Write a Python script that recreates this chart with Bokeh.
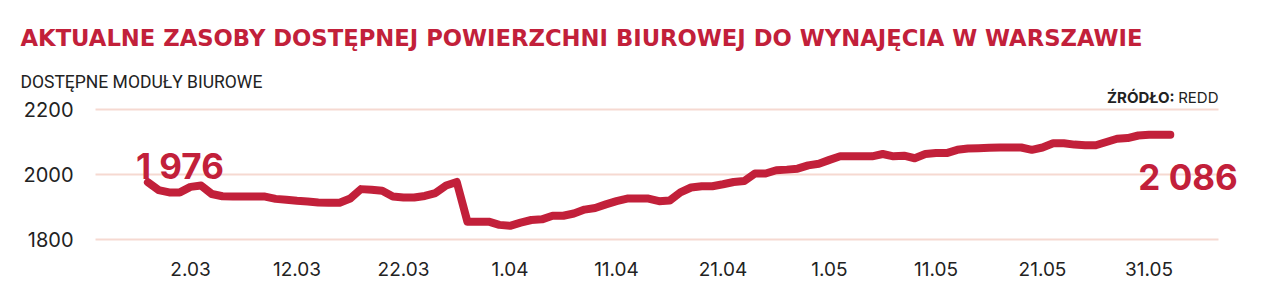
from bokeh.plotting import figure
from bokeh.models import Range1d, Label, ColumnDataSource
from bokeh.embed import file_html
from bokeh.resources import INLINE

# ---- data ----
title_text = "AKTUALNE ZASOBY DOSTĘPNEJ POWIERZCHNI BIUROWEJ DO WYNAJĘCIA W WARSZAWIE"
subtitle_text = "DOSTĘPNE MODUŁY BIUROWE"
source_bold = "ŹRÓDŁO:"
source_text = "REDD"
first_label = "1 976"
last_label = "2 086"

# day offsets relative to 2.03
days = list(range(-4, 93))
values = [
    1976, 1952, 1945, 1945, 1962, 1966, 1940, 1933, 1932, 1932,
    1932, 1932, 1925, 1922, 1919, 1917, 1914, 1913, 1913, 1926,
    1955, 1953, 1950, 1932, 1929, 1929, 1934, 1943, 1966, 1977,
    1855, 1855, 1855, 1845, 1842, 1852, 1860, 1862, 1873, 1873,
    1880, 1892, 1897, 1908, 1918, 1926, 1926, 1926, 1918, 1920,
    1945, 1960, 1964, 1964, 1970, 1977, 1980, 2003, 2003, 2013,
    2015, 2018, 2028, 2033, 2045, 2056, 2056, 2056, 2056, 2063,
    2056, 2058, 2050, 2063, 2066, 2066, 2076, 2080, 2081, 2082,
    2083, 2083, 2083, 2076, 2083, 2096, 2096, 2092, 2090, 2090,
    2100, 2110, 2112, 2120, 2122, 2122, 2122,
]
tick_days = [0, 10, 20, 30, 40, 50, 60, 70, 80, 90]
tick_labels = ["2.03", "12.03", "22.03", "1.04", "11.04", "21.04", "1.05", "11.05", "21.05", "31.05"]
y_ticks = [1800, 2000, 2200]
y_tick_labels = ["1800", "2000", "2200"]

RED = "#C2203A"
DARK = "#222222"
GRID = "#F6D9D1"
FONT = "Inter"

W, H = 1268, 302
# pixel <-> data mapping (frame is the whole canvas)
X0, PX_PER_DAY = 190.0, 10.65        # x pixel of day 0, pixels per day
Y2200, PX_PER_UNIT = 109.0, 0.325    # y pixel of 2200, pixels per unit


def dx(px):
    return (px - X0) / PX_PER_DAY


def dy(py):
    return 2200 - (py - Y2200) / PX_PER_UNIT


p = figure(width=W, height=H, output_backend="svg", toolbar_location=None,
           title=None, x_axis_type=None, y_axis_type=None,
           x_range=Range1d(dx(0), dx(W)), y_range=Range1d(dy(H), dy(0)),
           min_border=0)
p.outline_line_color = None
p.background_fill_color = "white"
p.border_fill_color = "white"
p.grid.visible = False

# horizontal gridlines
p.segment(x0=[dx(95)] * len(y_ticks), x1=[dx(1218)] * len(y_ticks),
          y0=y_ticks, y1=y_ticks, line_color=GRID, line_width=2)

# y tick labels
p.text(x=[dx(73)] * len(y_ticks), y=y_ticks, text=y_tick_labels,
       text_font={"value": FONT}, text_font_size="20px", text_color=DARK,
       text_align="right", text_baseline="middle")

# x tick labels
p.text(x=tick_days, y=[dy(268)] * len(tick_days), text=tick_labels,
       text_font={"value": FONT}, text_font_size="19px", text_color=DARK,
       text_align="center", text_baseline="alphabetic")

src = ColumnDataSource(dict(x=days, y=values))
p.line("x", "y", source=src, line_color=RED, line_width=8,
       line_cap="round", line_join="round")

# value labels
p.add_layout(Label(x=days[0], y=values[0], x_offset=-12, y_offset=16, text=first_label,
                   text_font=FONT, text_font_style="bold", text_font_size="35px",
                   text_color=RED, text_baseline="alphabetic"))
p.add_layout(Label(x=days[-1], y=values[-1], x_offset=-32, y_offset=-42, text=last_label,
                   text_font=FONT, text_font_style="bold", text_font_size="35px",
                   text_color=RED, text_baseline="alphabetic"))


def screen_label(text, cx, cy_baseline, size, color, style="normal", align="left", font=FONT):
    return Label(x=cx, y=H - cy_baseline, x_units="screen", y_units="screen",
                 text=text, text_font=font, text_font_size=size, text_color=color,
                 text_font_style=style, text_align=align, text_baseline="alphabetic")


p.add_layout(screen_label(title_text, 20, 37, "22.7px", RED, "bold", font="DejaVu Sans"))
p.add_layout(screen_label(subtitle_text, 20, 81, "17.5px", DARK, font="Roboto"))
p.add_layout(screen_label(source_text, 1218, 97, "15px", DARK, align="right"))
p.add_layout(screen_label(source_bold, 1174, 97, "15px", DARK, "bold", align="right"))

open("out.html", "w").write(file_html(p, INLINE))
